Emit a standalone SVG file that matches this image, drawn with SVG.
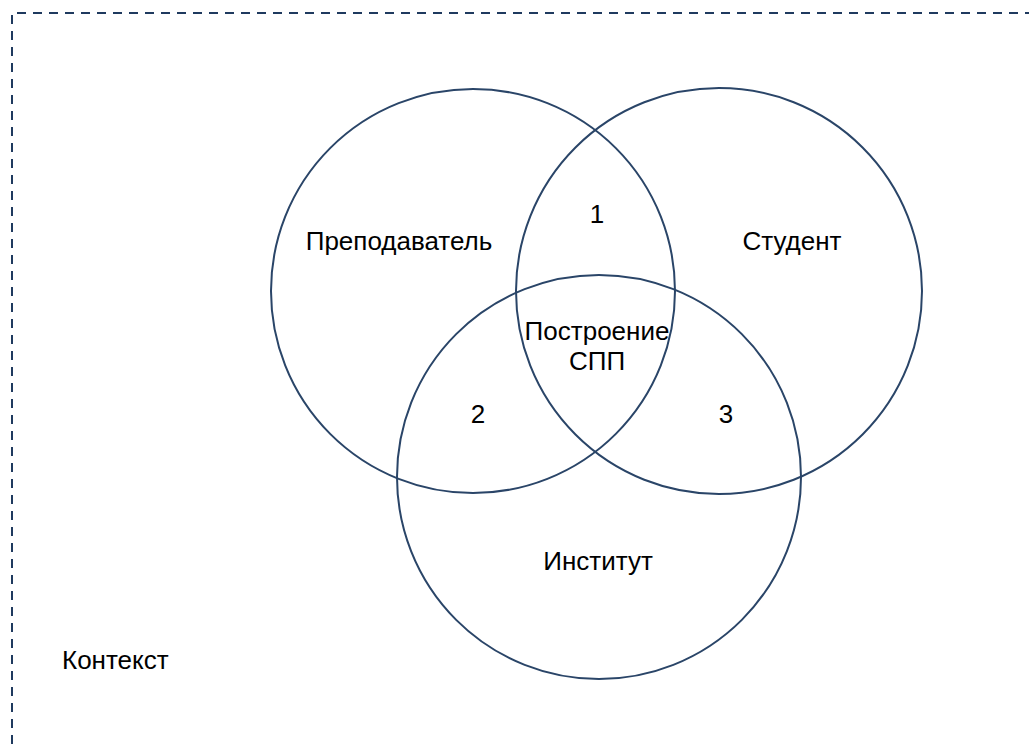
<svg xmlns="http://www.w3.org/2000/svg" width="1029" height="748" viewBox="0 0 1029 748">
  <style>
    .ring { fill: none; stroke: #2a4568; stroke-width: 2; }
    .frame { fill: none; stroke: #1f3a5f; stroke-width: 2; stroke-dasharray: 9 7; }
    .lbl { font-family: "Liberation Sans", Arial, sans-serif; font-size: 26px; fill: #000; text-anchor: middle; }
  </style>
  <rect width="1029" height="748" fill="#fff"/>
  <!-- dashed context frame -->
  <path class="frame" d="M12 760 L12 13 L1040 13"/>
  <g id="teacher">
    <circle class="ring" cx="473" cy="291" r="202"/>
    <text class="lbl" x="399" y="250">Преподаватель</text>
  </g>
  <g id="student">
    <circle class="ring" cx="719" cy="291" r="203"/>
    <text class="lbl" x="792" y="250">Студент</text>
  </g>
  <g id="institute">
    <circle class="ring" cx="599" cy="477" r="202"/>
    <text class="lbl" x="598" y="570">Институт</text>
  </g>
  <g id="overlap1"><text class="lbl" x="597" y="223">1</text></g>
  <g id="overlap2"><text class="lbl" x="478" y="423">2</text></g>
  <g id="overlap3"><text class="lbl" x="726" y="423">3</text></g>
  <g id="core">
    <text class="lbl" x="597" y="340">Построение</text>
    <text class="lbl" x="597" y="370">СПП</text>
  </g>
  <g id="context">
    <text class="lbl" x="62" y="669" style="text-anchor:start">Контекст</text>
  </g>
  <g id="connectors"/>
</svg>
